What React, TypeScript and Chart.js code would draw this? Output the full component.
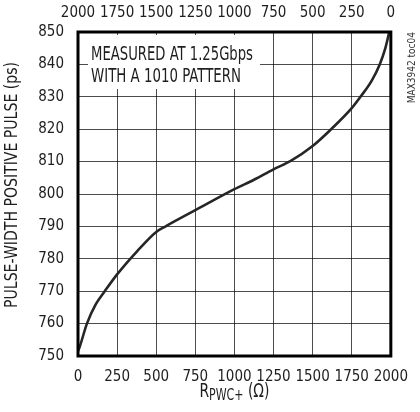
import React, { useEffect, useRef } from "react";
import { Chart, registerables } from "chart.js";

Chart.register(...registerables);

// ---- data ----
const resistanceOhm = [0, 12, 57, 114, 171, 250, 379, 500, 563, 750, 1000, 1125, 1250, 1360, 1500, 1625, 1750, 1806, 1878, 1929, 1965, 1990];
const pulseWidthPs = [751.5, 753, 760, 766, 770, 775.2, 782.4, 788.3, 790.1, 795, 801.5, 804.4, 807.6, 810.2, 814.8, 820.3, 826.5, 830, 835, 840, 845, 850];

const xMin = 0;
const xMax = 2000;
const xStep = 250;
const yMin = 750;
const yMax = 850;
const yStep = 10;

const yTitle = "PULSE-WIDTH POSITIVE PULSE (ps)";
const xTitleMain = "R";
const xTitleSub = "PWC+";
const xTitleUnit = " (Ω)";
const noteLines = ["MEASURED AT 1.25Gbps", "WITH A 1010 PATTERN"];
const sideTag = "MAX3942 toc04";

const FONT = "'Liberation Sans Narrow', 'Arial Narrow', 'DejaVu Sans Condensed', sans-serif";
const INK = "#1e1e1e";

function fitText(ctx: CanvasRenderingContext2D, text: string, x: number, y: number, width: number) {
  const w = ctx.measureText(text).width;
  ctx.save();
  ctx.translate(x, y);
  ctx.scale(width / w, 1);
  ctx.fillText(text, 0, 0);
  ctx.restore();
}

const decorPlugin = {
  id: "decor",
  beforeDatasetsDraw(chart: any) {
    const { ctx, chartArea: a } = chart;
    ctx.save();
    // white box behind the note
    ctx.fillStyle = "#ffffff";
    ctx.fillRect(a.left + 10, a.top + 3, 172, 54);
    ctx.fillStyle = INK;
    ctx.font = `20px ${FONT}`;
    ctx.textAlign = "left";
    ctx.textBaseline = "alphabetic";
    fitText(ctx, noteLines[0], a.left + 13, a.top + 28, 162);
    fitText(ctx, noteLines[1], a.left + 13, a.top + 49.6, 150);
    ctx.restore();
  },
  afterDraw(chart: any) {
    const { ctx, chartArea: a } = chart;
    ctx.save();
    // plot frame
    ctx.strokeStyle = "#000";
    ctx.lineWidth = 3;
    ctx.strokeRect(a.left, a.top, a.right - a.left, a.bottom - a.top);

    // y axis title (rotated, centred a little above the plot centre as in the reference)
    ctx.save();
    ctx.fillStyle = INK;
    ctx.font = `17px ${FONT}`;
    ctx.textAlign = "left";
    ctx.textBaseline = "middle";
    ctx.translate(13, 308);
    ctx.rotate(-Math.PI / 2);
    fitText(ctx, yTitle, 0, 0, 246);
    ctx.restore();

    // x axis title with subscript, squeezed to the reference width
    ctx.fillStyle = INK;
    ctx.textBaseline = "alphabetic";
    ctx.textAlign = "left";
    const bigFont = `19px ${FONT}`;
    const subFont = `15px ${FONT}`;
    ctx.font = bigFont;
    const wR = ctx.measureText(xTitleMain).width;
    const wU = ctx.measureText(xTitleUnit).width;
    ctx.font = subFont;
    const wS = ctx.measureText(xTitleSub).width;
    const total = wR + wS + wU;
    const target = 70;
    const sx = target / total;
    const cx = (a.left + a.right) / 2;
    const baseY = 397;
    ctx.save();
    ctx.translate(cx - target / 2, baseY);
    ctx.scale(sx, 1);
    let x = 0;
    ctx.font = bigFont;
    ctx.fillText(xTitleMain, x, 0);
    x += wR;
    ctx.font = subFont;
    ctx.fillText(xTitleSub, x, 3);
    x += wS;
    ctx.font = bigFont;
    ctx.fillText(xTitleUnit, x, 0);
    ctx.restore();

    // side tag
    ctx.translate(412, a.top);
    ctx.rotate(-Math.PI / 2);
    ctx.font = `10px ${FONT}`;
    ctx.textAlign = "right";
    ctx.textBaseline = "middle";
    ctx.fillStyle = "#333";
    ctx.fillText(sideTag, 0, 0);
    ctx.restore();
  },
};

export default function App() {
  const canvasRef = useRef<HTMLCanvasElement | null>(null);

  useEffect(() => {
    if (!canvasRef.current) return;
    const tickFont = { family: FONT, size: 15 };
    const plain = (v: any) => String(v);
    const chart = new Chart(canvasRef.current, {
      type: "line",
      data: {
        datasets: [
          {
            data: resistanceOhm.map((r, i) => ({ x: r, y: pulseWidthPs[i] })),
            borderColor: "#262626",
            borderWidth: 2.6,
            pointRadius: 0,
            fill: false,
            cubicInterpolationMode: "monotone",
            xAxisID: "x",
            yAxisID: "y",
          },
        ],
      },
      plugins: [decorPlugin],
      options: {
        animation: false,
        responsive: false,
        layout: { padding: { left: 0, right: 15, top: 0, bottom: 0 } },
        plugins: { legend: { display: false }, tooltip: { enabled: false } },
        scales: {
          x: {
            type: "linear",
            position: "bottom",
            min: xMin,
            max: xMax,
            ticks: { stepSize: xStep, color: INK, font: tickFont, padding: 12, maxRotation: 0, autoSkip: false, callback: plain },
            grid: { color: "rgba(0,0,0,0.7)", lineWidth: 1, drawTicks: false },
            border: { display: false },
            afterFit: (s: any) => {
              s.height = 56;
            },
          },
          x2: {
            type: "linear",
            position: "top",
            min: xMin,
            max: xMax,
            reverse: true,
            ticks: { stepSize: xStep, color: INK, font: tickFont, padding: 10, maxRotation: 0, autoSkip: false, callback: plain },
            grid: { display: false, drawTicks: false },
            border: { display: false },
            afterFit: (s: any) => {
              s.height = 32;
            },
          },
          y: {
            type: "linear",
            min: yMin,
            max: yMax,
            ticks: { stepSize: yStep, color: INK, font: tickFont, padding: 14, callback: plain },
            grid: { color: "rgba(0,0,0,0.7)", lineWidth: 1, drawTicks: false },
            border: { display: false },
            title: { display: false },
            afterFit: (s: any) => {
              s.width = 78;
            },
          },
        },
      },
    } as any);
    return () => chart.destroy();
  }, []);

  return (
    <div style={{ position: "absolute", left: 0, top: 0, width: 420, height: 412, background: "#fff" }}>
      <canvas ref={canvasRef} width={420} height={412} style={{ width: 420, height: 412 }} />
    </div>
  );
}
